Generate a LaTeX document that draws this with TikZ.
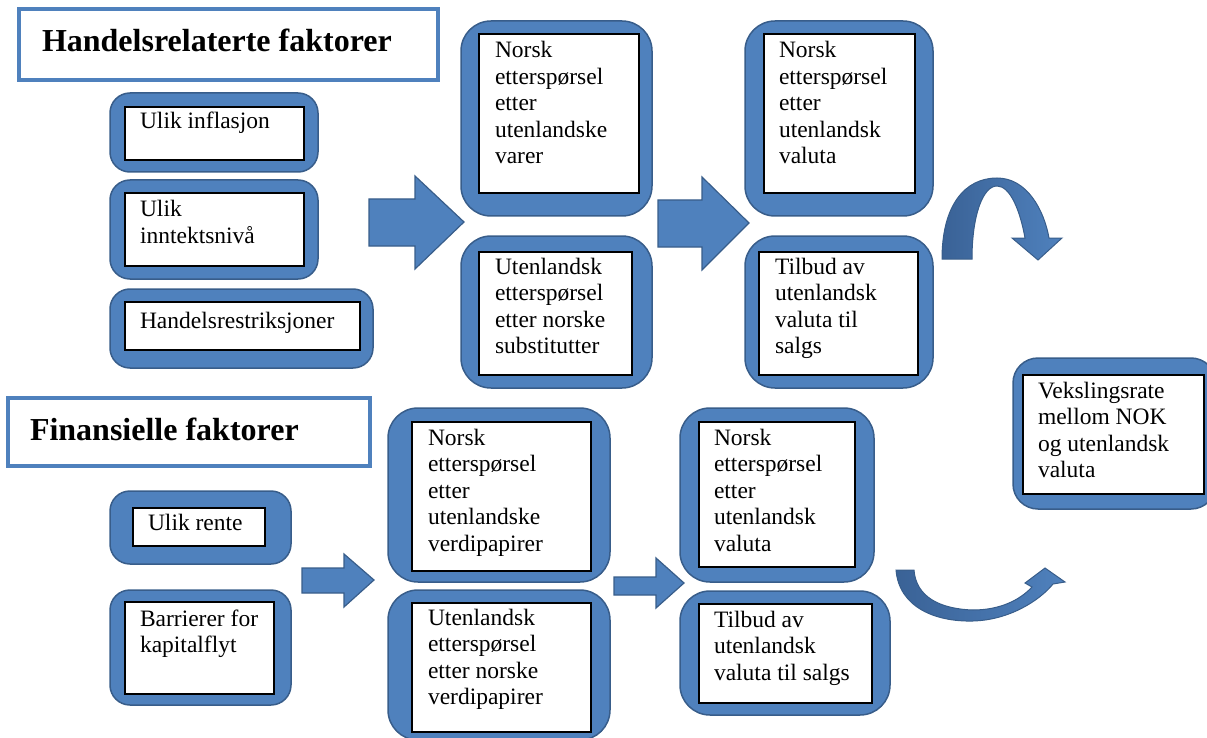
\documentclass[tikz,border=0pt]{standalone}
\usepackage{fontspec}
\setmainfont{Liberation Serif}
\definecolor{wblue}{RGB}{79,129,189}
\definecolor{wdark}{RGB}{58,98,150}
\definecolor{wedge}{RGB}{56,93,138}
\tikzset{
  ob/.style={fill=wblue, draw=wedge, line width=1.5pt, inner sep=0pt, outer sep=0pt},
  ib/.style={fill=white, draw=black, line width=1.3pt, inner sep=0pt, outer sep=0pt},
  tx/.style={inner sep=0pt, outer sep=0pt, font=\fontsize{23.5}{26.5}\selectfont, anchor=base west},
  ttl/.style={fill=white, draw=wblue, line width=4pt, inner sep=0pt, outer sep=0pt},
  ttx/.style={inner sep=0pt, outer sep=0pt, font=\fontsize{32}{36}\selectfont\bfseries, anchor=base west},
  barrow/.style={fill=wblue, draw=wedge, line width=1.2pt, line join=miter},
  carrow/.style={left color=wdark, right color=wblue, draw=wedge, line width=1pt},
}
\newcommand\obox[6]{\node[ob, rounded corners=#6pt, anchor=north west, minimum width={#4pt-#2pt}, minimum height={#5pt-#3pt}] (#1) at (#2,#3) {};}
\newcommand\ibox[5]{\node[ib, anchor=north west, minimum width={#4pt-#2pt}, minimum height={#5pt-#3pt}] (#1) at (#2,#3) {};}
\newcommand\tbox[4]{\node[tx] (#1) at (#2,#3) {\parbox[t]{300pt}{#4}};}
\begin{document}
\begin{tikzpicture}[x=1pt, y=-1pt]
\useasboundingbox (0,0) rectangle (1207,738);
% titles
\node[ttl, anchor=north west, minimum width=419pt, minimum height=71pt] (title1) at (19,9) {};
\node[ttx] (title1t) at (42,52) {Handelsrelaterte faktorer};
\node[ttl, anchor=north west, minimum width=362pt, minimum height=68pt] (title2) at (8,398) {};
\node[ttx] (title2t) at (30,440) {Finansielle faktorer};
% left column top
\obox{oA}{110}{93}{318}{172}{20}\ibox{iA}{125}{107}{304}{160}
\tbox{tA}{140}{129}{Ulik inflasjon}
\obox{oB}{110}{180}{318}{279}{20}\ibox{iB}{125}{193}{304}{266}
\tbox{tB}{140}{217}{Ulik\\inntektsnivå}
\obox{oC}{110}{289}{373}{368}{20}\ibox{iC}{125}{302}{360}{350}
\tbox{tC}{140}{328}{Handelsrestriksjoner}
% middle top
\obox{oD}{461}{21}{652}{216}{30}\ibox{iD}{479}{34}{639}{193}
\tbox{tD}{495}{58}{Norsk\\etterspørsel\\etter\\utenlandske\\varer}
\obox{oE}{461}{236}{652}{388}{30}\ibox{iE}{479}{252}{632}{375}
\tbox{tE}{495}{274}{Utenlandsk\\etterspørsel\\etter norske\\substitutter}
\obox{oF}{745}{21}{933}{216}{30}\ibox{iF}{764}{34}{915}{193}
\tbox{tF}{779}{58}{Norsk\\etterspørsel\\etter\\utenlandsk\\valuta}
\obox{oG}{745}{236}{933}{388}{30}\ibox{iG}{759}{252}{918}{375}
\tbox{tG}{775}{274}{Tilbud av\\utenlandsk\\valuta til\\salgs}
% left column bottom
\obox{oH}{110}{491}{291}{564}{20}\ibox{iH}{133}{508}{265}{546}
\tbox{tH}{148}{530}{Ulik rente}
\obox{oI}{110}{590}{291}{705}{20}\ibox{iI}{125}{602}{274}{694}
\tbox{tI}{140}{626}{Barrierer for\\kapitalflyt}
% middle bottom
\obox{oJ}{388}{408}{610}{582}{30}\ibox{iJ}{412}{422}{591}{571}
\tbox{tJ}{428}{445}{Norsk\\etterspørsel\\etter\\utenlandske\\verdipapirer}
\obox{oK}{388}{590}{610}{740}{30}\ibox{iK}{412}{603}{591}{732}
\tbox{tK}{428}{625}{Utenlandsk\\etterspørsel\\etter norske\\verdipapirer}
\obox{oL}{680}{408}{874}{582}{30}\ibox{iL}{699}{422}{855}{567}
\tbox{tL}{714}{445}{Norsk\\etterspørsel\\etter\\utenlandsk\\valuta}
\obox{oM}{680}{591}{890}{715}{30}\ibox{iM}{699}{604}{872}{703}
\tbox{tM}{714}{627}{Tilbud av\\utenlandsk\\valuta til salgs}
% right
\obox{oN}{1013}{358}{1216}{509}{25}\ibox{iN}{1023}{375}{1204}{494}
\tbox{tN}{1038}{398}{Vekslingsrate\\mellom NOK\\og utenlandsk\\valuta}
% block arrows
\draw[barrow] (369,199)--(415,199)--(415,176)--(464,222)--(415,269)--(415,246)--(369,246)--cycle;
\draw[barrow] (658,200)--(702,200)--(702,177)--(749,223)--(702,270)--(702,247)--(658,247)--cycle;
\draw[barrow] (302,568)--(344,568)--(344,554)--(374,580)--(344,607)--(344,593)--(302,593)--cycle;
\draw[barrow] (614,577)--(656,577)--(656,558)--(684,583)--(656,608)--(656,595)--(614,595)--cycle;
% curved arrows
\draw[carrow] (942,259) .. controls (942,205) and (965,178) .. (997,178)
  .. controls (1027,178) and (1044,210) .. (1049,238) -- (1062,238) -- (1038,260) -- (1012,238) -- (1025,238)
  .. controls (1020,210) and (1010,186) .. (997,186)
  .. controls (983,186) and (972,215) .. (972,259) -- cycle;
\draw[carrow] (896,570) .. controls (899,607) and (935,622) .. (973,621)
  .. controls (1010,620) and (1040,600) .. (1053,584) -- (1065,582) -- (1045,568) -- (1025,583) -- (1032,587)
  .. controls (1020,600) and (1000,610) .. (973,610)
  .. controls (940,609) and (916,597) .. (914,570) -- cycle;
\end{tikzpicture}
\end{document}
